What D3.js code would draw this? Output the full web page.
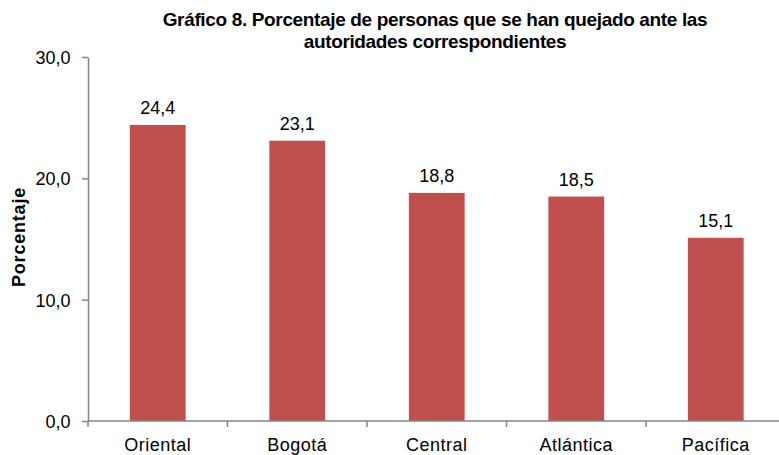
<!DOCTYPE html>
<meta charset="utf-8">
<title>Gráfico 8</title>
<style>
  body { margin: 0; background: #fff; }
  text { font-family: "Liberation Sans", Arial, sans-serif; fill: #000; }
</style>
<body>
  <div id="container"></div>
  <script src="https://cdn.jsdelivr.net/npm/d3@7/dist/d3.min.js"></script>
  <script>
    const regions = ["Oriental", "Bogotá", "Central", "Atlántica", "Pacífica"];
    const percents = [24.4, 23.1, 18.8, 18.5, 15.1];
    const yTicks = [0, 10, 20, 30];
    const titleLines = ["Gráfico 8. Porcentaje de personas que se han quejado ante las", "autoridades correspondientes"];

    const width = 779, height = 455;
    const plotLeft = 88, plotTop = 57, plotBottom = 421, bandW = 139.5;

    const svg = d3.select('#container').append('svg')
      .attr('width', width).attr('height', height);

    const x = d3.scaleBand().domain(regions)
      .range([plotLeft, plotLeft + bandW * regions.length])
      .paddingInner(0.6).paddingOuter(0.3);
    const y = d3.scaleLinear().domain([0, 30]).range([plotBottom, plotTop]);
    const fmt = d => d.toFixed(1).replace('.', ',');

    // title
    svg.append('text')
      .attr('x', 435).attr('y', 26)
      .attr('text-anchor', 'middle')
      .style('font-weight', 'bold').style('font-size', '19px')
      .style('letter-spacing', '-0.35px')
      .selectAll('tspan').data(titleLines).join('tspan')
      .attr('x', 435).attr('dy', (d, i) => i ? 21.5 : 0)
      .text(d => d);

    // bars
    svg.selectAll('rect.bar').data(percents).join('rect')
      .attr('class', 'bar')
      .attr('x', (d, i) => x(regions[i]))
      .attr('width', x.bandwidth())
      .attr('y', d => y(d))
      .attr('height', d => y(0) - y(d))
      .attr('fill', '#c0504d');

    // value labels
    svg.selectAll('text.val').data(percents).join('text')
      .attr('class', 'val')
      .attr('x', (d, i) => x(regions[i]) + x.bandwidth() / 2)
      .attr('y', d => y(d) - 11)
      .attr('text-anchor', 'middle')
      .style('font-size', '18px')
      .text(fmt);

    // y axis
    const yAxis = svg.append('g')
      .attr('transform', `translate(${plotLeft},0)`)
      .call(d3.axisLeft(y).tickValues(yTicks).tickFormat(fmt).tickSize(6).tickSizeOuter(0));
    yAxis.select('.domain').attr('stroke', '#868686').attr('stroke-width', 1.5);
    yAxis.selectAll('.tick line').attr('stroke', '#868686').attr('stroke-width', 1.5);
    yAxis.selectAll('.tick text')
      .attr('x', -17.5).attr('dy', '0.36em')
      .style('font-size', '18px').style('font-family', '"Liberation Sans", Arial, sans-serif')
      .attr('fill', '#000');

    // x axis line and category boundary ticks
    svg.append('line')
      .attr('x1', plotLeft).attr('x2', width)
      .attr('y1', y(0)).attr('y2', y(0))
      .attr('stroke', '#868686').attr('stroke-width', 1.5);
    svg.selectAll('line.xtick').data(d3.range(regions.length + 1)).join('line')
      .attr('class', 'xtick')
      .attr('x1', i => plotLeft + i * bandW).attr('x2', i => plotLeft + i * bandW)
      .attr('y1', y(0)).attr('y2', y(0) + 6)
      .attr('stroke', '#868686').attr('stroke-width', 1.5);

    // category labels
    svg.selectAll('text.cat').data(regions).join('text')
      .attr('class', 'cat')
      .attr('x', d => x(d) + x.bandwidth() / 2)
      .attr('y', 451)
      .attr('text-anchor', 'middle')
      .style('font-size', '18px')
      .style('letter-spacing', '0.5px')
      .text(d => d);

    // y axis title
    svg.append('text')
      .attr('transform', 'translate(25,237) rotate(-90)')
      .attr('text-anchor', 'middle')
      .style('font-weight', 'bold').style('font-size', '18px')
      .style('letter-spacing', '0.8px')
      .text('Porcentaje');
  </script>
</body>
